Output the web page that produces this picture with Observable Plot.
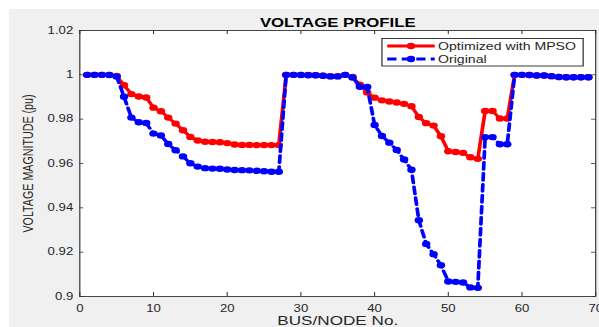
<!DOCTYPE html>
<html>
<head>
<meta charset="utf-8">
<script src="https://cdn.jsdelivr.net/npm/d3@7"></script>
<script src="https://cdn.jsdelivr.net/npm/@observablehq/plot@0.6"></script>
<style>
  html, body { margin: 0; padding: 0; background: #ffffff; }
  #wrap { position: relative; width: 599px; height: 327px; overflow: hidden; }
  #bg { position: absolute; left: 9px; top: 9px; right: 0; bottom: 0; background: #f0f0f0; }
  #chart { position: absolute; left: 0; top: 0; }
  #chart svg { display: block; }
</style>
</head>
<body>
<div id="wrap"><div id="bg"></div><div id="chart"></div></div>
<script>
// ---- data ----
const buses = [1,2,3,4,5,6,7,8,9,10,11,12,13,14,15,16,17,18,19,20,21,22,23,24,25,26,27,28,29,30,31,32,33,34,35,36,37,38,39,40,41,42,43,44,45,46,47,48,49,50,51,52,53,54,55,56,57,58,59,60,61,62,63,64,65,66,67,68,69];

const optimizedMPSO = [
  1.0000,1.0000,1.0000,1.0000,0.9995,0.9953,0.9913,0.9902,0.9898,0.9852,
  0.9836,0.9807,0.9780,0.9750,0.9720,0.9704,0.9698,0.9697,0.9696,0.9692,
  0.9686,0.9684,0.9684,0.9683,0.9683,0.9683,0.9683,1.0000,1.0000,1.0000,
  0.9999,0.9998,0.9996,0.9994,0.9994,1.0000,0.9990,0.9955,0.9920,0.9897,
  0.9885,0.9880,0.9875,0.9869,0.9858,0.9810,0.9782,0.9771,0.9723,0.9655,
  0.9652,0.9648,0.9628,0.9621,0.9837,0.9837,0.9803,0.9803,1.0000,1.0000,
  0.9999,0.9997,0.9997,0.9994,0.9990,0.9989,0.9989,0.9989,0.9989
];

const original = [
  1.0000,1.0000,1.0000,0.9999,0.9992,0.9901,0.9807,0.9786,0.9783,0.9735,
  0.9726,0.9688,0.9660,0.9632,0.9601,0.9586,0.9579,0.9577,0.9576,0.9573,
  0.9571,0.9570,0.9569,0.9567,0.9565,0.9563,0.9563,1.0000,1.0000,0.9999,
  0.9998,0.9998,0.9996,0.9993,0.9993,1.0000,0.9988,0.9946,0.9945,0.9774,
  0.9724,0.9694,0.9661,0.9618,0.9572,0.9344,0.9237,0.9191,0.9141,0.9068,
  0.9066,0.9063,0.9041,0.9039,0.9719,0.9719,0.9687,0.9687,1.0000,1.0000,
  0.9999,0.9997,0.9997,0.9994,0.9990,0.9989,0.9989,0.9989,0.9989
];

const seriesNames = ["Optimized with MPSO", "Original"];
const xTicks = [0,10,20,30,40,50,60,70];
const xTickLabels = ["0","10","20","30","40","50","60","70"];
const yTicks = [0.9,0.92,0.94,0.96,0.98,1.0,1.02];
const yTickLabels = ["0.9","0.92","0.94","0.96","0.98","1","1.02"];
const titleText = "VOLTAGE PROFILE";
const xLabel = "BUS/NODE No.";
const yLabel = "VOLTAGE MAGNITUDE (pu)";

// ---- layout (design units; whole SVG is stretched horizontally like the reference) ----
const W = 454, H = 327, OUTW = 599;
const mL = 60, mR = 3, mT = 30, mB = 31;
const plotW = W - mL - mR, plotH = H - mT - mB;
const tickLen = 4;
const axisColor = "#333333";
const font = "'Liberation Sans', Arial, Helvetica, sans-serif";

const redRows = buses.map((b, i) => ({bus: b, v: optimizedMPSO[i]}));
const blueRows = buses.map((b, i) => ({bus: b, v: original[i]}));

const chart = Plot.plot({
  width: W, height: H,
  marginLeft: mL, marginRight: mR, marginTop: mT, marginBottom: mB,
  style: {background: "transparent", fontFamily: font, fontSize: "10px", color: "#262626"},
  x: {domain: [0, 70]},
  y: {domain: [0.9, 1.02]},
  marks: [
    Plot.frame({fill: "white", stroke: "none"}),
    Plot.line(redRows, {x: "bus", y: "v", stroke: "#ff0000", strokeWidth: 2.8}),
    Plot.dot(redRows, {x: "bus", y: "v", r: 3.2, fill: "#ff0000", stroke: "none"}),
    Plot.line(blueRows, {x: "bus", y: "v", stroke: "#0000ff", strokeWidth: 2.8, strokeDasharray: "7,4"}),
    Plot.dot(blueRows, {x: "bus", y: "v", r: 3.2, fill: "#0000ff", stroke: "none"}),
    Plot.tickX(xTicks, {x: d => d, insetTop: plotH - tickLen, stroke: axisColor, strokeWidth: 0.8}),
    Plot.tickX(xTicks, {x: d => d, insetBottom: plotH - tickLen, stroke: axisColor, strokeWidth: 0.8}),
    Plot.tickY(yTicks, {y: d => d, insetRight: plotW - tickLen * 0.76, stroke: axisColor, strokeWidth: 0.8}),
    Plot.tickY(yTicks, {y: d => d, insetLeft: plotW - tickLen * 0.76, stroke: axisColor, strokeWidth: 0.8}),
    Plot.axisX(xTicks, {
      tickSize: 0, tickPadding: 8, fontSize: 10,
      tickFormat: d => xTickLabels[xTicks.indexOf(d)],
      label: null
    }),
    Plot.axisY(yTicks, {
      tickSize: 0, tickPadding: 5, fontSize: 10,
      tickFormat: d => yTickLabels[yTicks.indexOf(d)],
      label: null
    }),
    Plot.text([xLabel], {text: d => d, frameAnchor: "bottom", textAnchor: "middle", lineAnchor: "middle", dy: 24.5, fontSize: 13, fill: "#262626"}),
    Plot.text([yLabel], {text: d => d, frameAnchor: "left", textAnchor: "middle", lineAnchor: "middle", dx: -39, rotate: -90, fontSize: 10.7, fill: "#262626"}),
    Plot.frame({stroke: axisColor, strokeWidth: 0.9}),
    Plot.text([titleText], {text: d => d, frameAnchor: "top", lineAnchor: "bottom", dy: -4, fontWeight: "bold", fontSize: 12.7, fill: "#000000"})
  ]
});

// legend (design units)
const svg = d3.select(chart);
const lg = svg.append("g").attr("font-family", font).attr("font-size", 10.7).attr("text-anchor", "start");
const lx = 289.5, ly = 38.5, lw = 152.5, lh = 27.5;
lg.append("rect").attr("x", lx).attr("y", ly).attr("width", lw).attr("height", lh)
  .attr("fill", "white").attr("stroke", "#262626").attr("stroke-width", 0.9);
const legendItems = [
  {name: seriesNames[0], color: "#ff0000", dash: null, cy: 46},
  {name: seriesNames[1], color: "#0000ff", dash: "7,4", cy: 59}
];
legendItems.forEach(it => {
  lg.append("line").attr("x1", lx + 4).attr("x2", lx + 40).attr("y1", it.cy).attr("y2", it.cy)
    .attr("stroke", it.color).attr("stroke-width", 2.8).attr("stroke-dasharray", it.dash);
  lg.append("circle").attr("cx", lx + 22).attr("cy", it.cy).attr("r", 3.2).attr("fill", it.color);
  lg.append("text").attr("x", lx + 42.5).attr("y", it.cy).attr("dy", "0.35em")
    .attr("text-anchor", "start").attr("fill", "#262626").text(it.name);
});

// stretch horizontally to the reference's aspect
chart.setAttribute("viewBox", `0 0 ${W} ${H}`);
chart.setAttribute("width", OUTW);
chart.setAttribute("height", H);
chart.setAttribute("preserveAspectRatio", "none");
chart.style.width = OUTW + "px";
chart.style.height = H + "px";
chart.style.maxWidth = "none";
document.getElementById("chart").appendChild(chart);
</script>
</body>
</html>
